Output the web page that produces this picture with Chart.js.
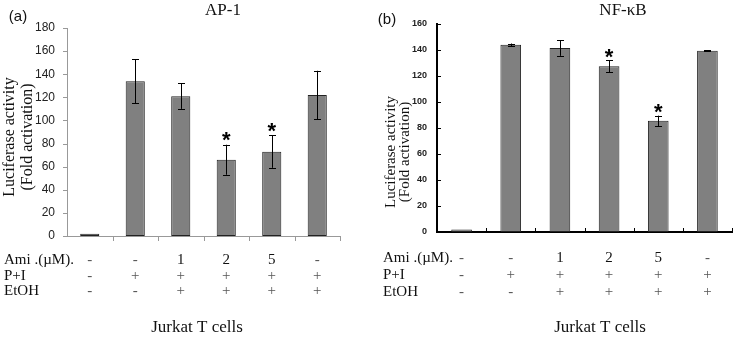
<!DOCTYPE html>
<html lang="en">
<head>
    <meta charset="UTF-8">
    <title>AP-1 / NF-kB luciferase</title>
    <script src="https://cdn.jsdelivr.net/npm/chart.js@4.4.1/dist/chart.umd.min.js"></script>
    <style>
        body{margin:0; background:#fff;}
        #wrap{position:relative; width:735px; height:339px;}
        #wrap canvas{position:absolute; top:0;}
    </style>
</head>
<body>
<div id="wrap">
    <canvas id="chartA" width="367" height="339" style="left:0"></canvas>
    <canvas id="chartB" width="368" height="339" style="left:367px"></canvas>
</div>

<script>
// table rows under the bars
const groups = ['g1', 'g2', 'g3', 'g4', 'g5', 'g6']
const amiRow = ['-', '-', '1', '2', '5', '-']
const piRow = ['-', '+', '+', '+', '+', '+']
const etohRow = ['-', '-', '+', '+', '+', '+']

// (a) AP-1
const ap1Means = [2, 134, 121, 66, 73, 122]
const ap1Errors = [0, 19, 11, 13, 14, 21]
const ap1Stars = [false, false, false, true, true, false]
const ap1Max = 180

// (b) NF-kB
const nfkbMeans = [2, 144, 141.5, 127.5, 85.5, 139.5]
const nfkbErrors = [0, 1, 6, 4.5, 4, 0.5]
const nfkbStars = [false, false, false, true, true, false]
const nfkbMax = 160

const serif = "'Liberation Serif', 'Times New Roman', serif"
const sans = "'Liberation Sans', Arial, sans-serif"

function makeChart(id, p){
    const ctx = document.getElementById(id).getContext('2d')

    const extras = {
        id:'extras_' + id,
        afterDatasetsDraw:function(chart){
            const c = chart.ctx
            const y = chart.scales.y
            const meta = chart.getDatasetMeta(0)
            c.save()
            c.strokeStyle = '#000'
            c.lineWidth = 1
            meta.data.forEach(function(bar, i){
                const err = p.errors[i]
                const x = Math.round(bar.x) + 0.5
                const yTop = y.getPixelForValue(p.means[i] + err)
                if(err > 0){
                    const yBot = y.getPixelForValue(p.means[i] - err)
                    c.beginPath()
                    c.moveTo(x, yTop); c.lineTo(x, yBot)
                    c.moveTo(x - 3.5, Math.round(yTop) + 0.5); c.lineTo(x + 3.5, Math.round(yTop) + 0.5)
                    c.moveTo(x - 3.5, Math.round(yBot) + 0.5); c.lineTo(x + 3.5, Math.round(yBot) + 0.5)
                    c.stroke()
                }
                if(p.stars[i]){
                    c.font = 'bold 22px ' + sans
                    c.fillStyle = '#000'
                    c.textAlign = 'center'
                    c.textBaseline = 'alphabetic'
                    c.fillText('*', bar.x, yTop - p.starGap + 12.5)
                }
            })
            c.restore()
        },
        afterDraw:function(chart){
            const c = chart.ctx
            const area = chart.chartArea
            const ys = chart.scales.y
            const meta = chart.getDatasetMeta(0)
            c.save()

            // tick marks
            c.strokeStyle = p.axisColor
            c.lineWidth = 1
            c.beginPath()
            ys.ticks.forEach(function(t){
                const py = Math.round(ys.getPixelForValue(t.value)) + 0.5
                c.moveTo(area.left, py); c.lineTo(area.left + p.yTick, py)
            })
            const step = (area.right - area.left) / groups.length
            for(let i = 1; i <= groups.length; i++){
                const px = Math.round(area.left + step * i) + 0.5
                c.moveTo(px, area.bottom); c.lineTo(px, area.bottom + p.xTick)
            }
            c.stroke()

            // titles
            c.fillStyle = '#111'
            c.textAlign = 'center'
            c.textBaseline = 'middle'
            c.font = '17px ' + serif
            c.fillText(p.title, p.titleX, p.titleY)
            c.font = '15px ' + sans
            c.fillText(p.panel, p.panelX, p.panelY)

            // y axis title
            ;[['Luciferase activity', p.yTitleX1], ['(Fold activation)', p.yTitleX2]].forEach(function(l){
                c.save()
                c.font = p.yTitleSize + 'px ' + serif
                c.translate(l[1], p.yTitleY)
                c.rotate(-Math.PI / 2)
                c.fillText(l[0], 0, 0)
                c.restore()
            })

            // treatment table
            c.font = '15px ' + serif
            const rows = [['Ami .(\u00b5M).', amiRow], ['P+I', piRow], ['EtOH', etohRow]]
            rows.forEach(function(r, k){
                const ry = p.rowY[k]
                c.textAlign = 'left'
                c.fillStyle = '#111'
                c.fillText(r[0], p.rowLabelX, ry)
                c.textAlign = 'center'
                r[1].forEach(function(v, i){
                    c.fillStyle = (v === '-' || v === '+') ? '#555' : '#111'
                    c.fillText(v, meta.data[i].x, ry)
                })
            })
            c.fillStyle = '#111'
            c.font = '17px ' + serif
            c.fillText('Jurkat T cells', p.footX, 328)
            c.restore()
        }
    }

    return new Chart(ctx, {
        type:'bar',
        data:{
            labels:groups,
            datasets:[{
                data:p.means,
                backgroundColor:'#808080',
                borderColor:'#222',
                borderWidth:1,
                borderSkipped:false,
                barPercentage:1,
                categoryPercentage:0.42
            }]
        },
        options:{
            responsive:false,
            animation:false,
            layout:{padding:{left:0, top:p.top, right:p.right, bottom:p.bottom}},
            plugins:{legend:{display:false}, tooltip:{enabled:false}},
            scales:{
                x:{
                    ticks:{display:false},
                    grid:{display:false, drawTicks:false},
                    border:{color:p.axisColor, width:p.axisWidth},
                    afterFit:function(s){ s.height = 0 }
                },
                y:{
                    min:0,
                    max:p.max,
                    ticks:{stepSize:20, padding:p.tickPad, color:'#222', font:p.tickFont},
                    grid:{display:false, drawTicks:false},
                    border:{color:p.axisColor, width:p.axisWidth},
                    afterFit:function(s){ s.width = p.axisLeft }
                }
            }
        },
        plugins:[extras]
    })
}

makeChart('chartA', {
    means:ap1Means, errors:ap1Errors, stars:ap1Stars, max:ap1Max,
    top:28, right:27, bottom:103, axisLeft:67,
    axisColor:'#999', axisWidth:1, yTick:-4, xTick:5, tickPad:12,
    tickFont:{family:sans, size:12},
    starGap:10,
    title:'AP-1', titleX:223, titleY:11, panel:'(a)', panelX:18, panelY:17,
    yTitleSize:16, yTitleX1:10, yTitleX2:28, yTitleY:137,
    rowY:[260, 276, 291], rowLabelX:4, footX:197
})

makeChart('chartB', {
    means:nfkbMeans, errors:nfkbErrors, stars:nfkbStars, max:nfkbMax,
    top:24, right:3, bottom:107, axisLeft:70,
    axisColor:'#000', axisWidth:2, yTick:4, xTick:-4, tickPad:10,
    tickFont:{family:"'Liberation Sans Narrow', " + sans, size:9, weight:'bold'},
    starGap:9,
    title:'NF-\u03baB', titleX:256, titleY:11, panel:'(b)', panelX:20, panelY:20,
    yTitleSize:15, yTitleX1:24, yTitleX2:38, yTitleY:152,
    rowY:[258, 275, 292], rowLabelX:16, footX:233
})
</script>
</body>
</html>
